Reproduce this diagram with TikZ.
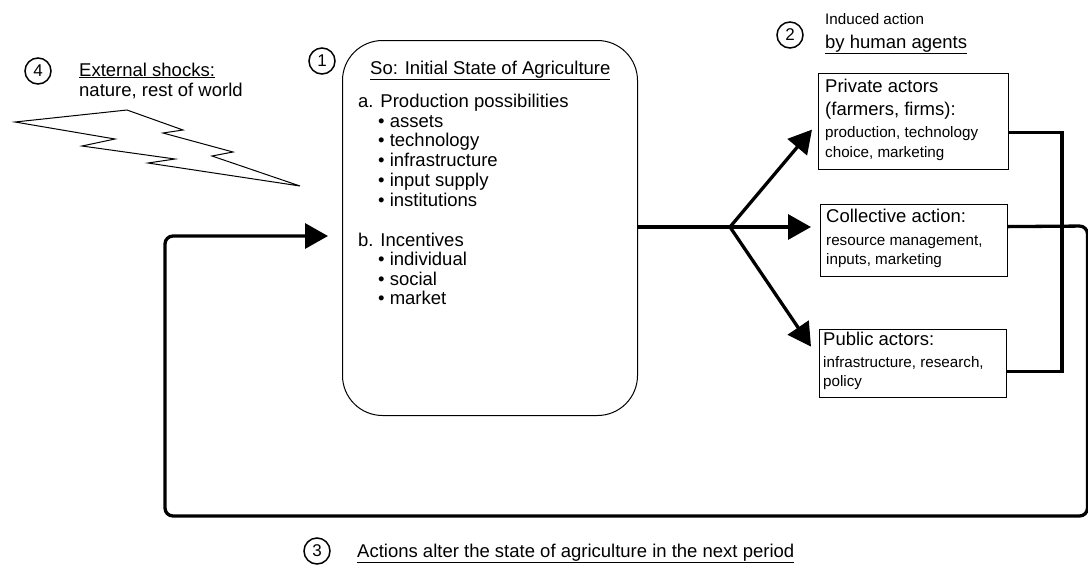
\documentclass[tikz,border=0pt]{standalone}
\usepackage{fontspec}
\setmainfont{Liberation Sans}
\usetikzlibrary{arrows.meta,calc}
\begin{document}
\begin{tikzpicture}[x=1pt,y=-1pt,
  big/.style={font=\fontsize{18.5}{20}\selectfont, inner sep=0pt, anchor=base west},
  small/.style={font=\fontsize{15.2}{17}\selectfont, inner sep=0pt, anchor=base west},
  num/.style={circle, draw, line width=1.5pt, minimum size=26pt, inner sep=0pt, font=\fontsize{17}{17}\selectfont},
  actbox/.style={draw, line width=1.2pt, anchor=north west, inner sep=0pt},
  flow/.style={line width=3.3pt},
  arr/.style={flow, -{Triangle[length=23pt,width=25pt]}},
]
\useasboundingbox (0,0) rectangle (1088,566);
\clip (0,0) rectangle (1088,566);

% external shocks
\node[num] (n4) at (38,71) {4};
\node[big] (shk) at (79,76) {\underline{External shocks:}};
\node[big] (shk2) at (79,96) {nature, rest of world};
\draw[line width=1pt, line join=miter] (15,122) -- (127,110) -- (183,130) -- (163,133) -- (233,152) -- (212,156) -- (300,186)
  -- (148,163) -- (175,159) -- (82,146) -- (115,139) -- cycle;

% initial state
\node[num] (n1) at (322,61) {1};
\node[draw, line width=1pt, rounded corners=40pt, anchor=north west, minimum width=295pt, minimum height=375pt] (state) at (342,40) {};
\node[big] (s0) at (370,74) {\underline{So: Initial State of Agriculture}};
\node[big] (sa) at (358,107) {a. Production possibilities};
\node[big] (sa1) at (378,127) {\textbullet\ assets};
\node[big] (sa2) at (378,146) {\textbullet\ technology};
\node[big] (sa3) at (378,166) {\textbullet\ infrastructure};
\node[big] (sa4) at (378,186) {\textbullet\ input supply};
\node[big] (sa5) at (378,206) {\textbullet\ institutions};
\node[big] (sb) at (358,246) {b. Incentives};
\node[big] (sb1) at (378,265) {\textbullet\ individual};
\node[big] (sb2) at (378,285) {\textbullet\ social};
\node[big] (sb3) at (378,304) {\textbullet\ market};

% induced action
\node[num] (n2) at (790,35) {2};
\node[small] (ia) at (825,24) {Induced action};
\node[big] (ia2) at (825,48) {\underline{by human agents}};

\node[actbox, minimum width=190pt, minimum height=96pt] (priv) at (818,73) {};
\node[big] at (825,92) {Private actors};
\node[big] at (825,115) {(farmers, firms):};
\node[small] at (825,137) {production, technology};
\node[small] at (825,157) {choice, marketing};

\node[actbox, minimum width=187pt, minimum height=72pt] (coll) at (820,204) {};
\node[big] at (826,222) {Collective action:};
\node[small] at (826,245) {resource management,};
\node[small] at (826,264) {inputs, marketing};

\node[actbox, minimum width=187pt, minimum height=68pt] (pub) at (819,329) {};
\node[big] at (823,345) {Public actors:};
\node[small] at (823,367) {infrastructure, research,};
\node[small] at (823,386) {policy};

% connectors
\coordinate (fork) at (730,227);
\draw[flow] (state.east |- fork) -- (fork);
\draw[arr] (fork) -- ($(priv.west)+(-6,8)$);
\draw[arr] (fork) -- ($(fork -| coll.west)+(-9,0)$);
\draw[arr] (fork) -- ($(pub.west)+(-8,-17)$);

\draw[flow] ($(priv.east)+(0,11)$) -| (1062,300) |- ($(pub.east)+(0,8)$);
\coordinate (rt) at (1087.5,226);
\coordinate (rb) at (1087.5,516);
\draw[arr, rounded corners=8pt] ($(coll.east)+(0,-14)$) -- (rt) -- (rb) -- (165,516) -- (165,236) -- ($(state.west)+(-14,8)$);

% next period
\node[num] (n3) at (317,551) {3};
\node[big] (alt) at (357,557) {\underline{Actions alter the state of agriculture in the next period}};
\end{tikzpicture}
\end{document}
